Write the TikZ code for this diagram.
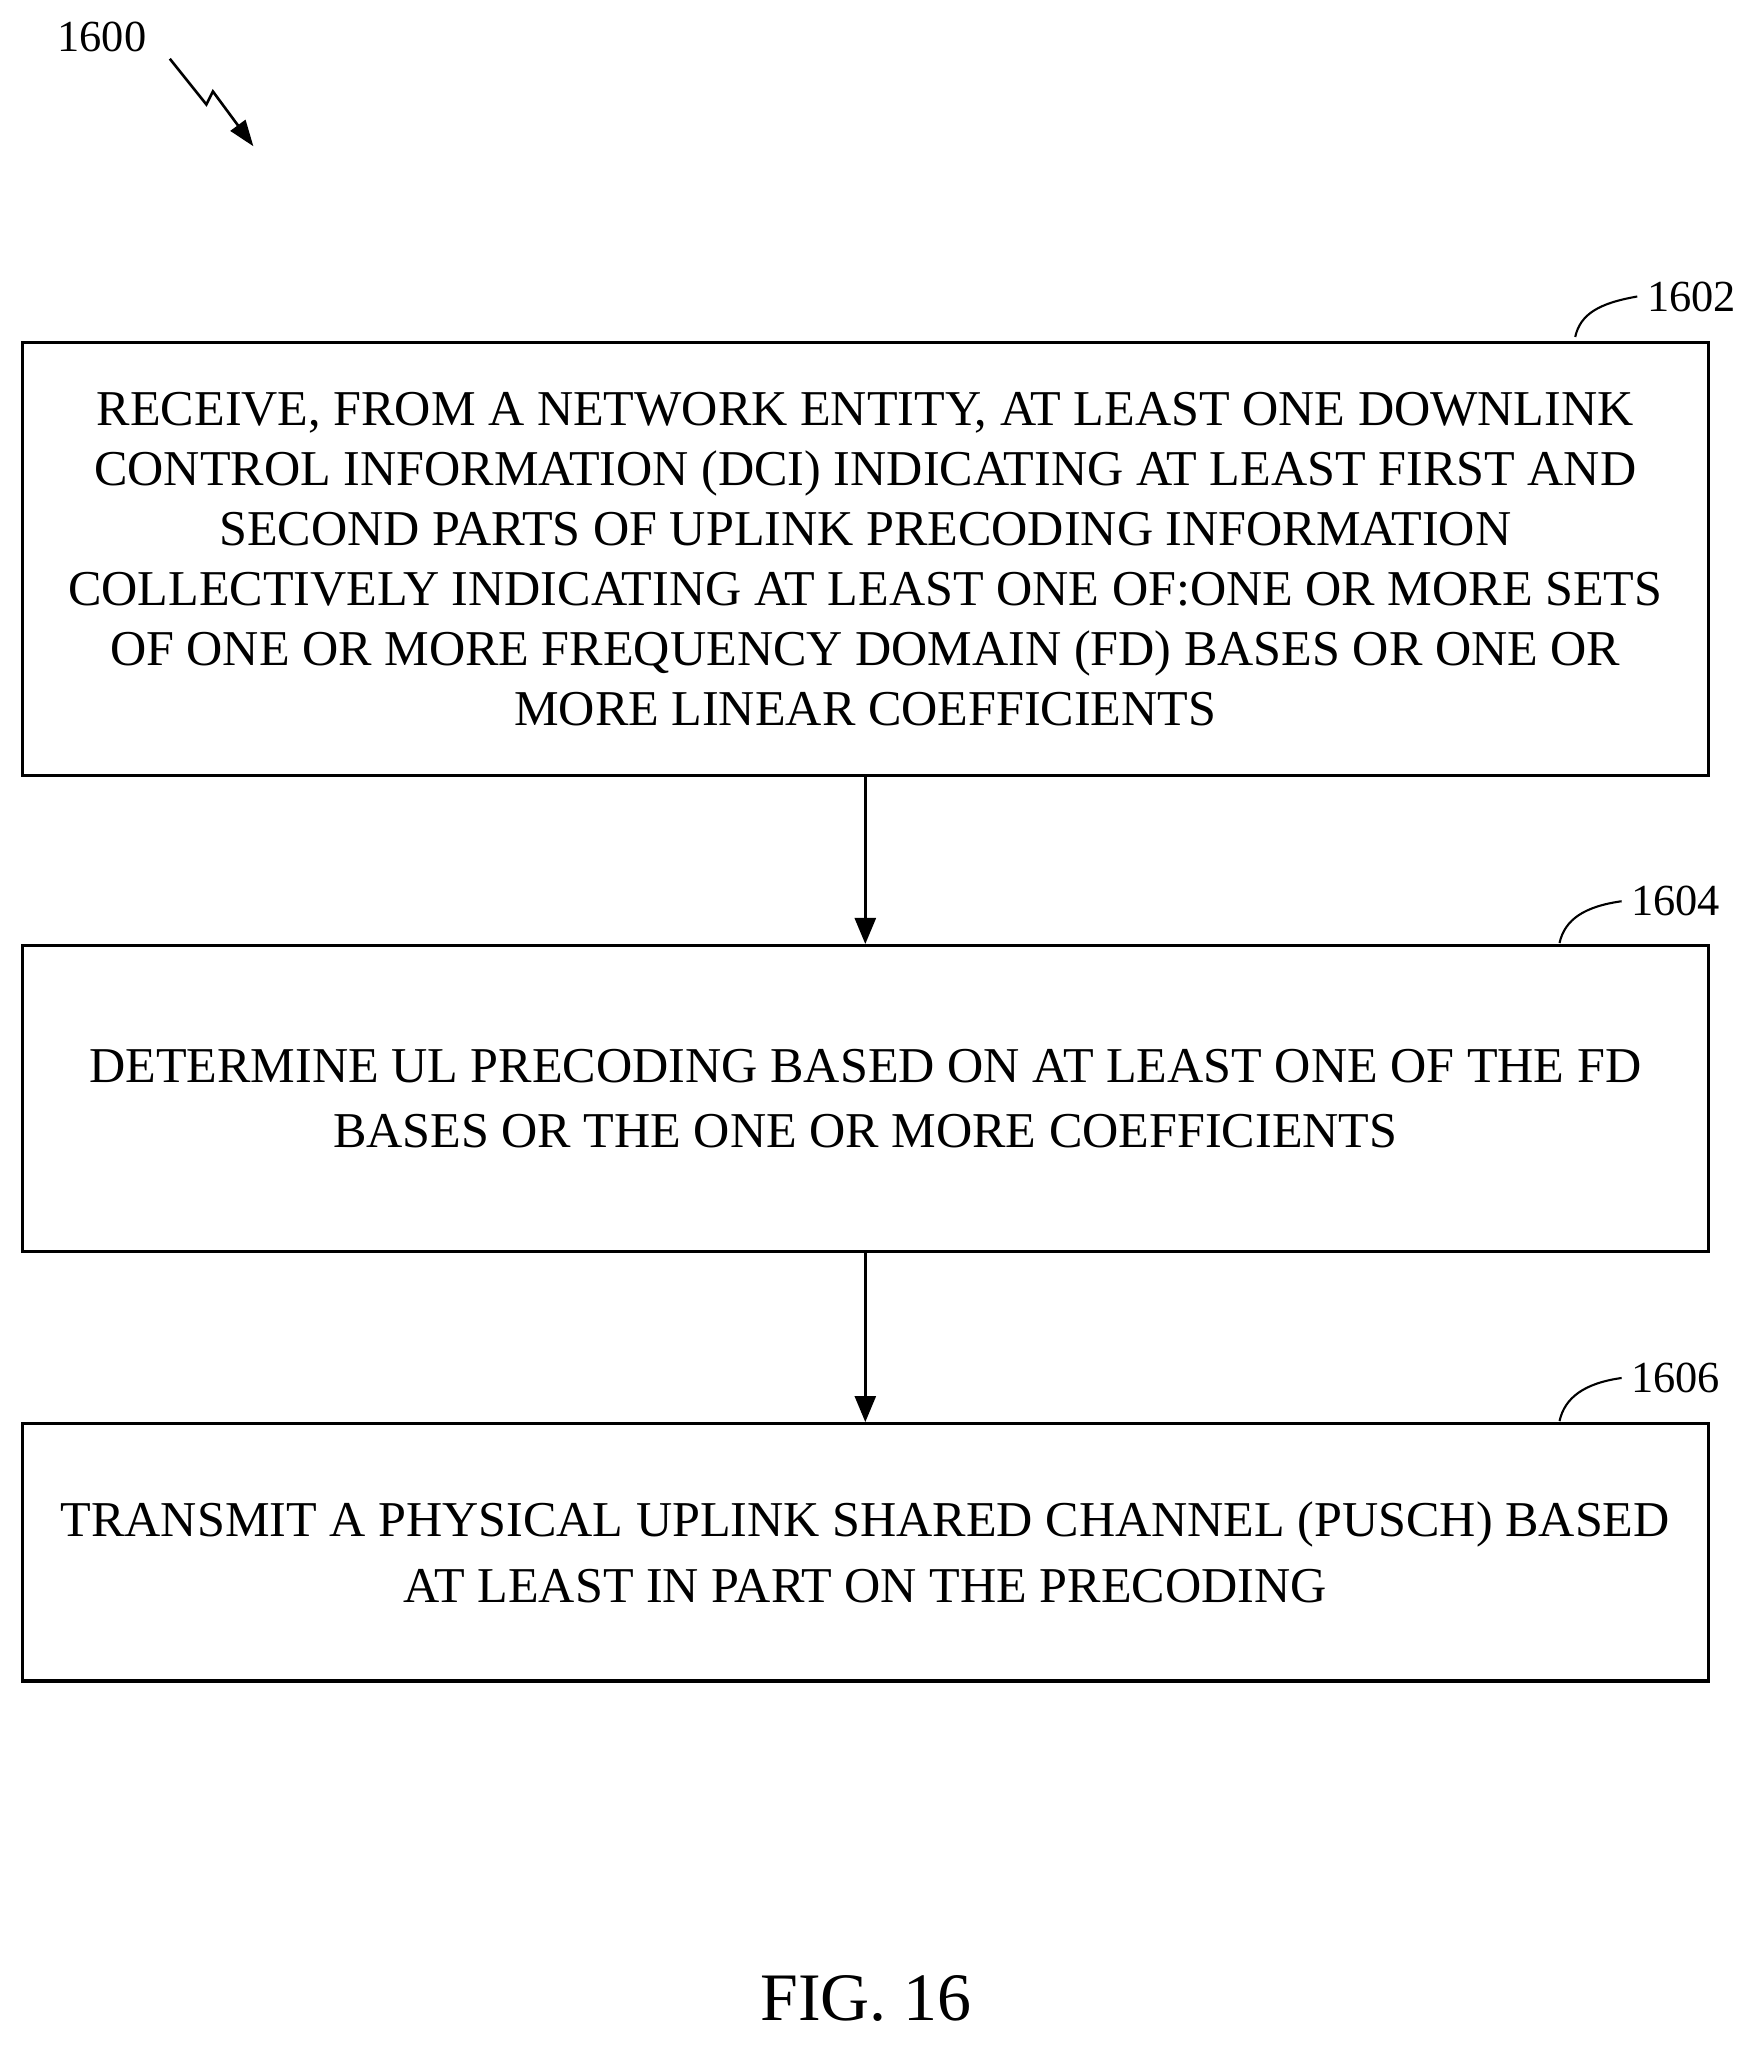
\documentclass[tikz,border=0pt]{standalone}
\usepackage{fontspec}
\setmainfont{Liberation Serif}
\usetikzlibrary{arrows.meta}
\begin{document}
\begin{tikzpicture}[x=0.5pt,y=-0.5pt,thick,
		step box/.style={rectangle,draw,line width=1.2pt,minimum width=645.5pt,align=center,font=\fontsize{19.2}{23}\selectfont},
		ref label/.style={font=\fontsize{17}{19}\selectfont},
		flow/.style={-{Triangle[length=10pt,width=8pt]},line width=1.2pt}]
		\useasboundingbox (0,0) rectangle (1340,1568);
		
		\node[ref label] (fig) at (78,28) {1600};
		\draw[-{Triangle[length=10pt,width=7pt]},line width=1pt] (130,45) -- (158,80) -- (163,70) -- (194,112);
		
		\node[step box,minimum height=166pt] (s1) at (662.5,428) {RECEIVE, FROM A NETWORK ENTITY, AT LEAST ONE DOWNLINK\\CONTROL INFORMATION (DCI) INDICATING AT LEAST FIRST AND\\SECOND PARTS OF UPLINK PRECODING INFORMATION\\COLLECTIVELY INDICATING AT LEAST ONE OF:ONE OR MORE SETS\\OF ONE OR MORE FREQUENCY DOMAIN (FD) BASES OR ONE OR\\MORE LINEAR COEFFICIENTS};
		\node[step box,minimum height=117pt] (s2) at (662.5,841) {DETERMINE UL PRECODING BASED ON AT LEAST ONE OF THE FD\\[2pt]BASES OR THE ONE OR MORE COEFFICIENTS};
		\node[step box,minimum height=98.5pt] (s3) at (662.5,1188.5) {TRANSMIT A PHYSICAL UPLINK SHARED CHANNEL (PUSCH) BASED\\[2pt]AT LEAST IN PART ON THE PRECODING};
		
		\node[ref label] (l1) at (1295,227) {1602};
		\node[ref label] (l2) at (1283,690) {1604};
		\node[ref label] (l3) at (1283,1055) {1606};
		\draw[line width=0.8pt] (1206,258) .. controls (1210,240) and (1225,232) .. (l1.west);
		\draw[line width=0.8pt] (1194,722) .. controls (1198,704) and (1213,694) .. (l2.west);
		\draw[line width=0.8pt] (1194,1088) .. controls (1198,1070) and (1213,1059) .. (l3.west);
		
		\draw[flow] (s1) -- (s2);
		\draw[flow] (s2) -- (s3);
		
		\node[font=\fontsize{26}{30}\selectfont] (cap) at (663,1530) {FIG. 16};
\end{tikzpicture}
\end{document}
